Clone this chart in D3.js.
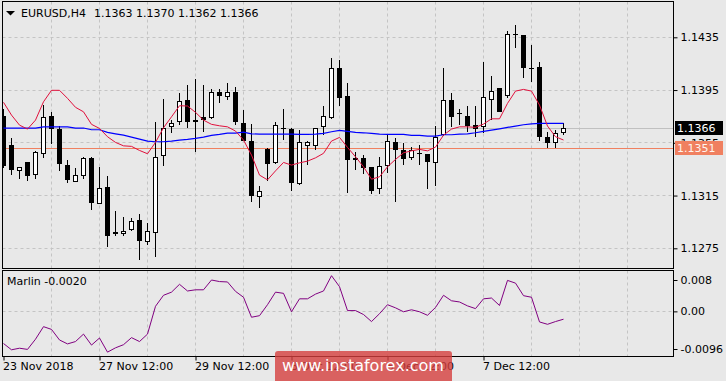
<!DOCTYPE html>
<html>
<head>
<meta charset="utf-8">
<script src="https://cdnjs.cloudflare.com/ajax/libs/d3/7.8.5/d3.min.js"></script>
<style>
  body { margin: 0; background: #e8e8e8; }
  svg { display: block; font-family: "DejaVu Sans", sans-serif; font-size: 11px; }
</style>
</head>
<body>
<div id="chart"></div>
<script>
// EURUSD H4, 71 bars, first bar = 23 Nov 2018 12:00
const timeTicks = [0, 12, 24, 36, 48, 60];
const timeLabels = ["23 Nov 2018", "27 Nov 12:00", "29 Nov 12:00", "3 Dec 12:00", "5 Dec 12:00", "7 Dec 12:00"];
const priceTicks = [1.1275, 1.1315, 1.1355, 1.1395, 1.1435];

const open = [1.1375, 1.1353, 1.1334, 1.1340, 1.1331, 1.1347, 1.1375, 1.1365, 1.1338, 1.1326,
  1.1330, 1.1343, 1.1309, 1.1321, 1.1287, 1.1286, 1.1289, 1.1296, 1.1280, 1.1287,
  1.1345, 1.1367, 1.1371, 1.1387, 1.1372, 1.1374, 1.1374, 1.1393, 1.1390, 1.1393,
  1.1370, 1.1356, 1.1314, 1.1350, 1.1340, 1.1366, 1.1365, 1.1324, 1.1353, 1.1353,
  1.1367, 1.1374, 1.1411, 1.1390, 1.1343, 1.1343, 1.1336, 1.1320, 1.1338, 1.1355,
  1.1349, 1.1344, 1.1347, 1.1346, 1.1340, 1.1361, 1.1387, 1.1377, 1.1375, 1.1368,
  1.1367, 1.1388, 1.1396, 1.1391, 1.1437, 1.1436, 1.1411, 1.1412, 1.1359, 1.1355, 1.1363];
const high = [1.1381, 1.1359, 1.1337, 1.1340, 1.1349, 1.1384, 1.1378, 1.1368, 1.1342, 1.1336,
  1.1344, 1.1344, 1.1337, 1.1330, 1.1303, 1.1299, 1.1298, 1.1301, 1.1294, 1.1371,
  1.1388, 1.1372, 1.1393, 1.1399, 1.1403, 1.1399, 1.1396, 1.1396, 1.1400, 1.1397,
  1.1380, 1.1369, 1.1322, 1.1351, 1.1371, 1.1381, 1.1366, 1.1365, 1.1356, 1.1366,
  1.1383, 1.1419, 1.1418, 1.1400, 1.1348, 1.1346, 1.1336, 1.1344, 1.1361, 1.1359,
  1.1355, 1.1352, 1.1353, 1.1346, 1.1368, 1.1412, 1.1393, 1.1381, 1.1383, 1.1383,
  1.1416, 1.1406, 1.1396, 1.1440, 1.1444, 1.1436, 1.1429, 1.1416, 1.1363, 1.1365, 1.1370];
const low = [1.1337, 1.1331, 1.1328, 1.1327, 1.1328, 1.1344, 1.1355, 1.1334, 1.1325, 1.1326,
  1.1328, 1.1305, 1.1309, 1.1277, 1.1285, 1.1285, 1.1289, 1.1267, 1.1278, 1.1269,
  1.1338, 1.1363, 1.1369, 1.1367, 1.1349, 1.1364, 1.1374, 1.1386, 1.1388, 1.1369,
  1.1357, 1.1311, 1.1306, 1.1327, 1.1340, 1.1358, 1.1319, 1.1324, 1.1339, 1.1350,
  1.1362, 1.1374, 1.1384, 1.1318, 1.1335, 1.1332, 1.1317, 1.1317, 1.1333, 1.1311,
  1.1339, 1.1343, 1.1339, 1.1321, 1.1323, 1.1361, 1.1368, 1.1369, 1.1364, 1.1360,
  1.1363, 1.1373, 1.1379, 1.1390, 1.1428, 1.1405, 1.1402, 1.1357, 1.1352, 1.1352, 1.1362];
const close = [1.1338, 1.1335, 1.1336, 1.1330, 1.1348, 1.1374, 1.1366, 1.1339, 1.1327, 1.1330,
  1.1343, 1.1310, 1.1320, 1.1285, 1.1286, 1.1288, 1.1295, 1.1281, 1.1288, 1.1344,
  1.1366, 1.1370, 1.1386, 1.1371, 1.1371, 1.1373, 1.1393, 1.1391, 1.1393, 1.1371,
  1.1357, 1.1315, 1.1318, 1.1339, 1.1368, 1.1366, 1.1325, 1.1355, 1.1355, 1.1366,
  1.1375, 1.1411, 1.1389, 1.1342, 1.1342, 1.1336, 1.1319, 1.1337, 1.1356, 1.1350,
  1.1343, 1.1349, 1.1347, 1.1341, 1.1359, 1.1387, 1.1375, 1.1377, 1.1368, 1.1366,
  1.1389, 1.1394, 1.1379, 1.1437, 1.1437, 1.1412, 1.1411, 1.1360, 1.1355, 1.1362, 1.1366];

// red (fast) and blue (slow) moving averages
const maFast = [1.13857, 1.13760, 1.13684, 1.13654, 1.13722, 1.13861, 1.13948, 1.13948, 1.13887, 1.13819,
  1.13785, 1.13690, 1.13659, 1.13596, 1.13553, 1.13527, 1.13523, 1.13492, 1.13467, 1.13553,
  1.13664, 1.13747, 1.13831, 1.13829, 1.13781, 1.13722, 1.13690, 1.13679, 1.13671, 1.13639,
  1.13571, 1.13457, 1.13305, 1.13269, 1.13337, 1.13401, 1.13381, 1.13398, 1.13411, 1.13436,
  1.13470, 1.13563, 1.13591, 1.13515, 1.13444, 1.13368, 1.13274, 1.13292, 1.13368, 1.13424,
  1.13474, 1.13489, 1.13500, 1.13489, 1.13517, 1.13608, 1.13654, 1.13671, 1.13671, 1.13667,
  1.13692, 1.13732, 1.13732, 1.13849, 1.13942, 1.13955, 1.13942, 1.13836, 1.13677, 1.13596, 1.13571];
const maSlow = [1.13662, 1.13662, 1.13662, 1.13662, 1.13662, 1.13671, 1.13671, 1.13671, 1.13671, 1.13662,
  1.13662, 1.13649, 1.13649, 1.13629, 1.13618, 1.13608, 1.13593, 1.13578, 1.13563, 1.13558,
  1.13558, 1.13563, 1.13571, 1.13576, 1.13583, 1.13593, 1.13606, 1.13614, 1.13624, 1.13624,
  1.13631, 1.13618, 1.13616, 1.13616, 1.13616, 1.13616, 1.13616, 1.13614, 1.13614, 1.13616,
  1.13621, 1.13634, 1.13644, 1.13637, 1.13629, 1.13626, 1.13621, 1.13616, 1.13614, 1.13614,
  1.13614, 1.13606, 1.13606, 1.13601, 1.13601, 1.13611, 1.13611, 1.13616, 1.13618, 1.13626,
  1.13637, 1.13646, 1.13656, 1.13667, 1.13677, 1.13687, 1.13694, 1.13697, 1.13697, 1.13697, 1.13697];

const marlin = [-0.0082, -0.0098, -0.0094, -0.0097, -0.0071, -0.0039, -0.0046, -0.0073, -0.0083, -0.0077,
  -0.0058, -0.0086, -0.0068, -0.0104, -0.0093, -0.0085, -0.0067, -0.0077, -0.0058, 0.0013,
  0.0041, 0.0049, 0.0069, 0.0052, 0.0055, 0.0055, 0.0080, 0.0076, 0.0075, 0.0051,
  0.0036, -0.0015, -0.0011, 0.0017, 0.0049, 0.0046, -0.0001, 0.0032, 0.0032, 0.0044,
  0.0052, 0.0091, 0.0063, 0.0002, 0.0002, -0.0008, -0.0026, -0.0006, 0.0017, 0.0009,
  -0.0001, 0.0004, -0.0001, -0.0010, 0.0010, 0.0041, 0.0027, 0.0024, 0.0014, 0.0007,
  0.0032, 0.0034, 0.0015, 0.0079, 0.0072, 0.0040, 0.0036, -0.0027, -0.0033, -0.0026, -0.0020];
const marlinTicks = [-0.0096, 0, 0.008];
const marlinTickLabels = ["-0.0096", "0.00", "0.008"];

const bidPrice = 1.1366, askPrice = 1.1351;

drawChart();

function drawChart() {

    const width = 726, height = 381;
    const main = { left: 2.5, right: 673.5, top: 1.5, bottom: 268.5 };
    const sub = { top: 270.5, bottom: 356.5 };
    const crisp = v => Math.floor(v) + 0.5;

    let svg = d3.select("#chart").append("svg")
        .attr("width", width)
        .attr("height", height);

    // scales
    let x = d3.scaleLinear().domain([0, 84]).range([3.5, 675.5]);
    let y = d3.scaleLinear().domain([1.1275, 1.1435]).range([248.3, 37.3]);
    let yOsc = d3.scaleLinear().domain([-0.0096, 0.008]).range([349, 280]);

    let defs = svg.append("defs");
    defs.append("clipPath").attr("id", "clipMain").append("rect")
        .attr("x", main.left).attr("y", main.top)
        .attr("width", main.right - main.left).attr("height", main.bottom - main.top);
    defs.append("clipPath").attr("id", "clipSub").append("rect")
        .attr("x", main.left).attr("y", sub.top)
        .attr("width", main.right - main.left).attr("height", sub.bottom - sub.top);

    let grid = svg.append("g")
        .attr("stroke", "#c4c4c4")
        .attr("stroke-dasharray", "3,3");

    // vertical grid every 6 bars, both panes
    let gx = d3.range(6, 84, 6).filter(i => x(i) < main.right);
    grid.selectAll(".vg").data(gx).enter().append("line")
        .attr("x1", d => crisp(x(d))).attr("x2", d => crisp(x(d)))
        .attr("y1", main.top).attr("y2", main.bottom);
    grid.selectAll(".vg2").data(gx).enter().append("line")
        .attr("x1", d => crisp(x(d))).attr("x2", d => crisp(x(d)))
        .attr("y1", sub.top).attr("y2", sub.bottom);

    // horizontal grid
    grid.selectAll(".hg").data(priceTicks).enter().append("line")
        .attr("x1", main.left).attr("x2", main.right)
        .attr("y1", d => crisp(y(d))).attr("y2", d => crisp(y(d)));
    grid.append("line")
        .attr("x1", main.left).attr("x2", main.right)
        .attr("y1", crisp(yOsc(0))).attr("y2", crisp(yOsc(0)));

    let plot = svg.append("g").attr("clip-path", "url(#clipMain)");

    // bid / ask lines
    plot.append("line")
        .attr("x1", main.left).attr("x2", main.right)
        .attr("y1", crisp(y(bidPrice))).attr("y2", crisp(y(bidPrice)))
        .attr("stroke", "#c0c0c0");
    plot.append("line")
        .attr("x1", main.left).attr("x2", main.right)
        .attr("y1", crisp(y(askPrice))).attr("y2", crisp(y(askPrice)))
        .attr("stroke", "#f08060");

    // candles
    let bars = open.map((o, i) => ({ i: i, o: o, h: high[i], l: low[i], c: close[i] }));

    plot.selectAll(".wick").data(bars).enter().append("line")
        .attr("x1", d => crisp(x(d.i))).attr("x2", d => crisp(x(d.i)))
        .attr("y1", d => Math.round(y(d.h))).attr("y2", d => Math.round(y(d.l)) + 1)
        .attr("stroke", "#000");

    plot.selectAll(".body").data(bars).enter().append("rect")
        .attr("x", d => crisp(x(d.i)) - 2)
        .attr("width", 4)
        .attr("y", d => crisp(y(Math.max(d.o, d.c))))
        .attr("height", d => Math.max(0.01, crisp(y(Math.min(d.o, d.c))) - crisp(y(Math.max(d.o, d.c)))))
        .attr("fill", d => d.c > d.o ? "#fff" : "#000")
        .attr("stroke", "#000");

    // moving averages
    let maLine = d3.line().x((d, i) => x(i)).y(d => y(d));
    plot.append("path").datum(maSlow)
        .attr("d", maLine).attr("fill", "none")
        .attr("stroke", "#0000ff").attr("stroke-width", 1.2);
    plot.append("path").datum(maFast)
        .attr("d", maLine).attr("fill", "none")
        .attr("stroke", "#e0103c").attr("stroke-width", 1);

    // Marlin oscillator
    let osc = svg.append("g").attr("clip-path", "url(#clipSub)");
    osc.append("path").datum(marlin)
        .attr("d", d3.line().x((d, i) => x(i)).y(d => yOsc(d)))
        .attr("fill", "none")
        .attr("stroke", "#800080");

    // frames
    svg.append("rect")
        .attr("x", main.left).attr("y", main.top)
        .attr("width", main.right - main.left).attr("height", main.bottom - main.top)
        .attr("fill", "none").attr("stroke", "#000");
    svg.append("rect")
        .attr("x", main.left).attr("y", sub.top)
        .attr("width", main.right - main.left).attr("height", sub.bottom - sub.top)
        .attr("fill", "none").attr("stroke", "#000");

    // price axis
    let yAxis = svg.append("g")
        .attr("transform", "translate(" + main.right + ",0)")
        .call(d3.axisRight(y).tickValues(priceTicks).tickFormat(d3.format(".4f")).tickSize(4).tickPadding(3));
    yAxis.select(".domain").remove();

    let oAxis = svg.append("g")
        .attr("transform", "translate(" + main.right + ",0)")
        .call(d3.axisRight(yOsc).tickValues(marlinTicks).tickFormat((d, i) => marlinTickLabels[i]).tickSize(4).tickPadding(3));
    oAxis.select(".domain").remove();

    // time axis
    let xAxis = svg.append("g")
        .attr("transform", "translate(0," + sub.bottom + ")")
        .call(d3.axisBottom(x).tickValues(timeTicks).tickFormat((d, i) => timeLabels[i]).tickSize(4).tickPadding(2));
    xAxis.select(".domain").remove();
    xAxis.selectAll("text").attr("text-anchor", "start").attr("dx", "-1");

    svg.selectAll(".tick text")
        .attr("font-size", 11)
        .attr("font-family", "DejaVu Sans, sans-serif")
        .attr("fill", "#000");
    svg.selectAll(".tick line").attr("stroke", "#000");

    // current price boxes
    let labels = [
        { p: bidPrice, bg: "#000", fg: "#fff" },
        { p: askPrice, bg: "#f08060", fg: "#fff4ee" }
    ];
    labels.forEach(l => {
        let yy = Math.round(y(l.p));
        svg.append("rect")
            .attr("x", 675).attr("y", yy - 7)
            .attr("width", 48).attr("height", 14)
            .attr("fill", l.bg);
        svg.append("text")
            .attr("x", 677).attr("y", yy + 4)
            .attr("fill", l.fg)
            .text(d3.format(".4f")(l.p));
    });

    // header
    svg.append("path")
        .attr("d", "M6,11 L15,11 L10.5,15.5 Z")
        .attr("fill", "#000");
    let head = svg.append("text").attr("y", 17).attr("fill", "#000");
    head.append("tspan").attr("x", 21).text("EURUSD,H4");
    head.append("tspan").attr("x", 94)
        .text([open[70], high[70], low[70], close[70]].map(d3.format(".4f")).join(" "));

    svg.append("text")
        .attr("x", 7).attr("y", 285)
        .attr("fill", "#000")
        .text("Marlin " + d3.format(".4f")(marlin[marlin.length - 1]).replace("−", "-"));

    // watermark
    svg.append("rect")
        .attr("x", 275).attr("y", 351)
        .attr("width", 177).attr("height", 40)
        .attr("rx", 3)
        .attr("fill", "rgba(213,63,61,0.8)");
    svg.append("text")
        .attr("x", 363).attr("y", 371)
        .attr("text-anchor", "middle")
        .attr("font-size", 16)
        .attr("fill", "#fff")
        .text("www.instaforex.com");
}
</script>
</body>
</html>
